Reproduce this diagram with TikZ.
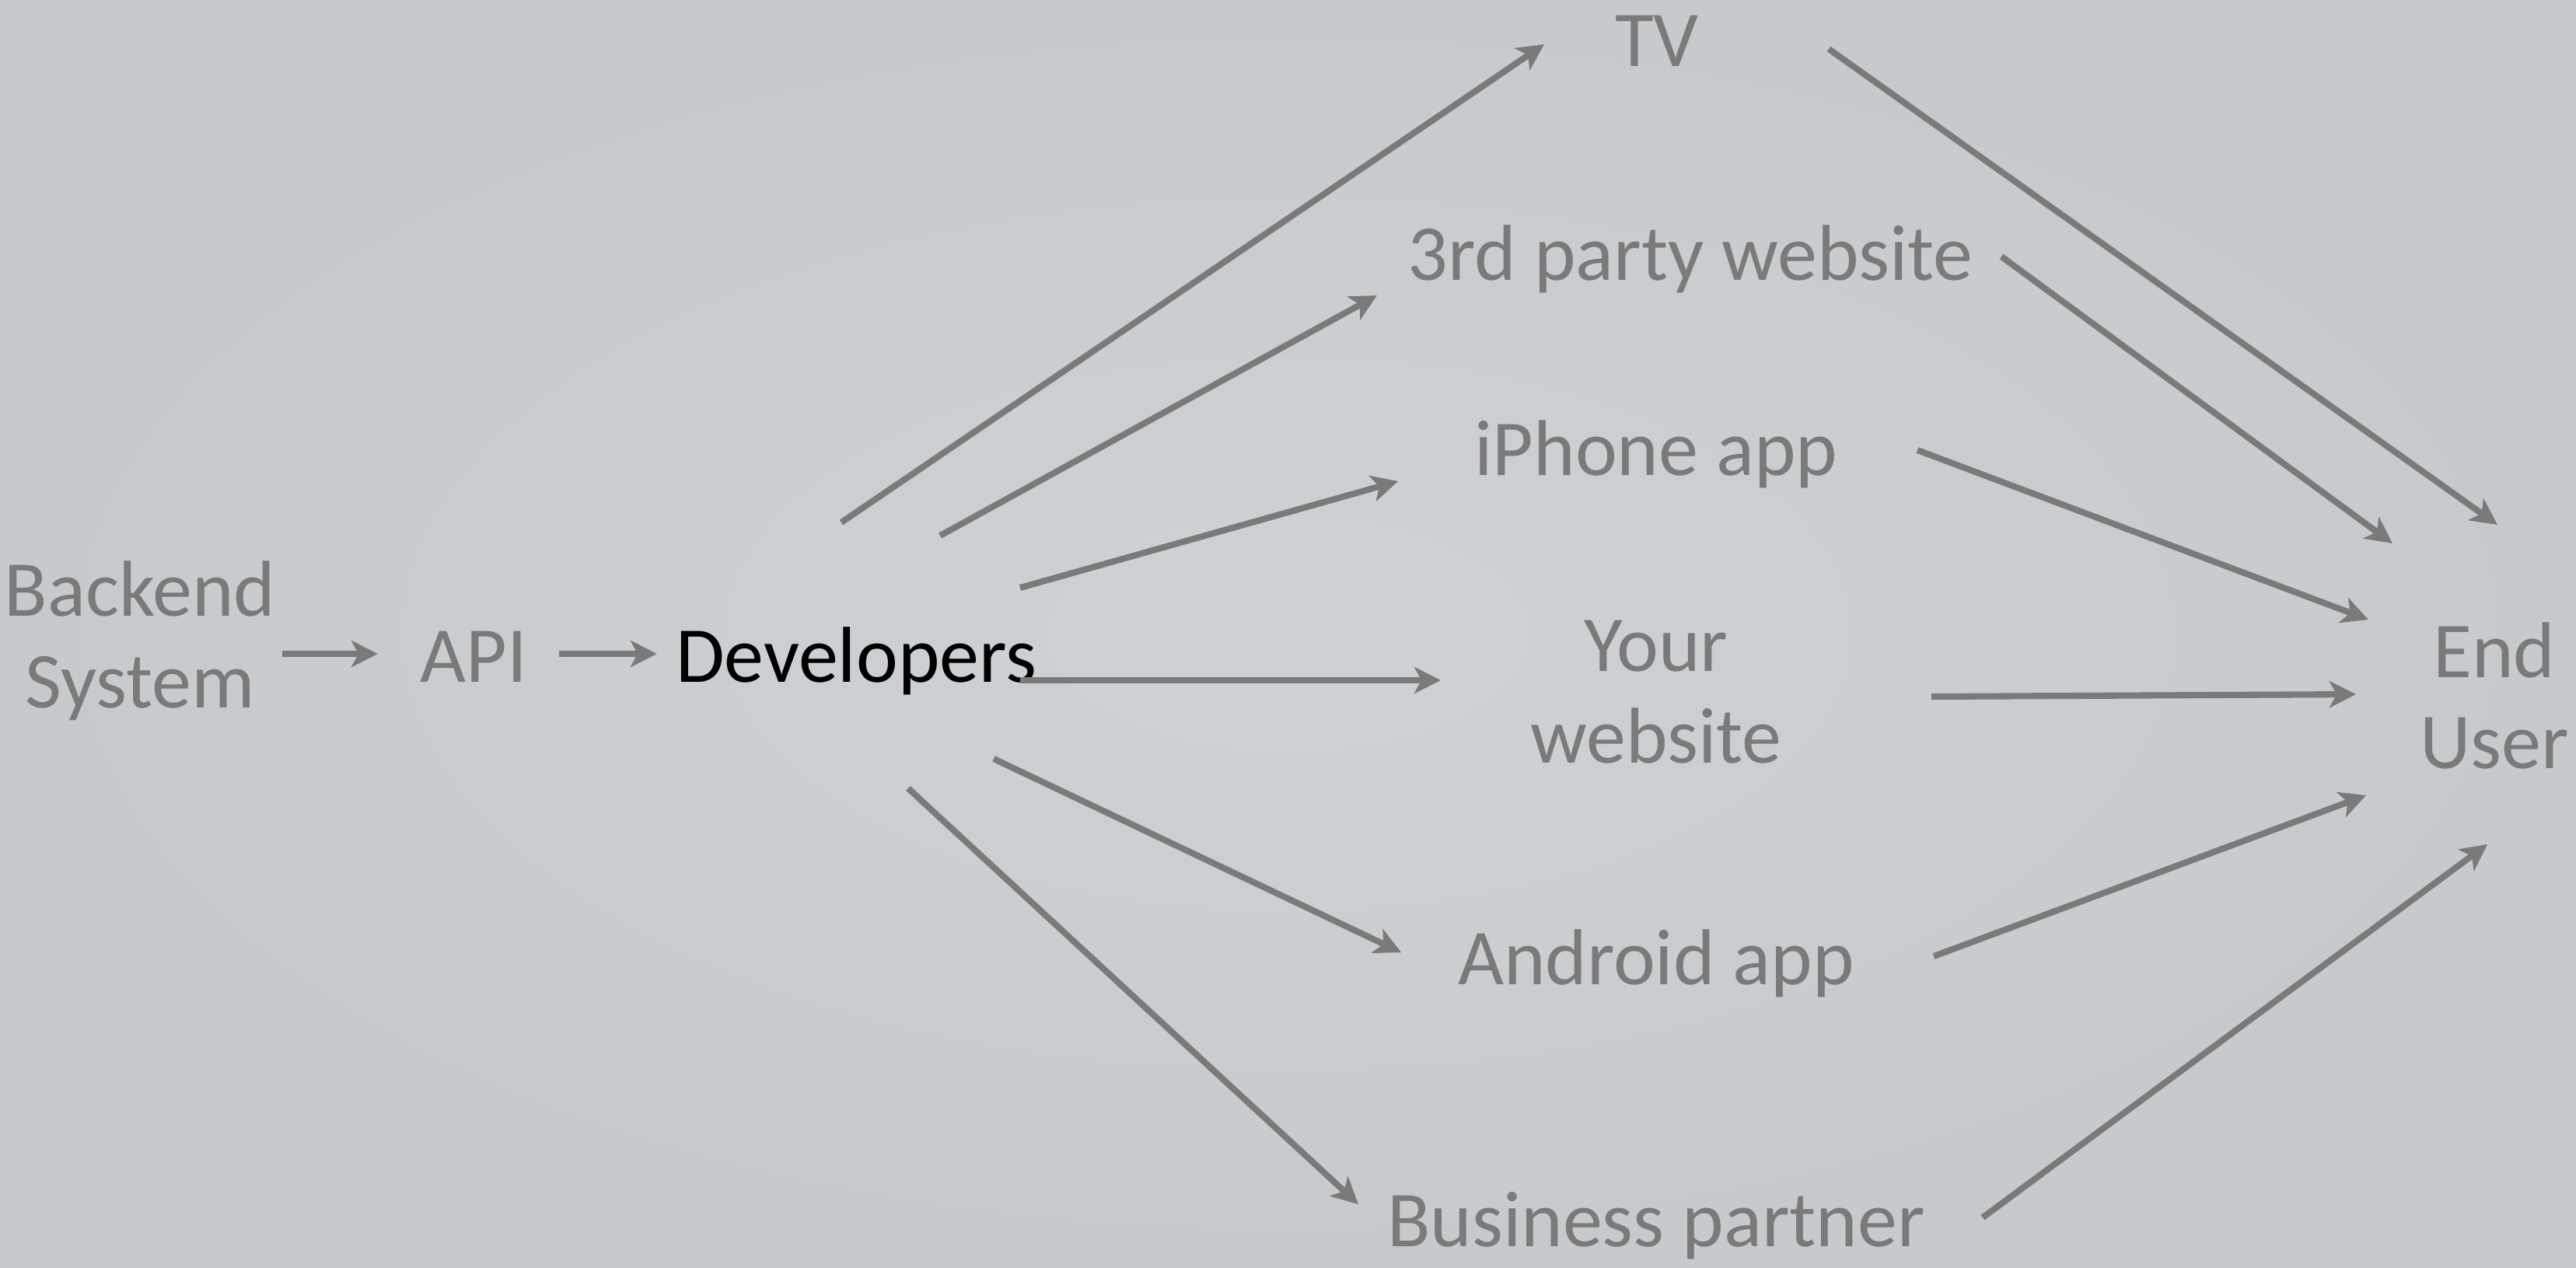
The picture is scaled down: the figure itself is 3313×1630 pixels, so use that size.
\documentclass[tikz,border=0pt]{standalone}
\usepackage{fontspec}
\setmainfont{Carlito}
\usetikzlibrary{arrows.meta}
\definecolor{bgin}{RGB}{207,210,212}
\definecolor{bgout}{RGB}{199,202,204}
\definecolor{ink}{RGB}{122,122,122}
\tikzset{
  lbl/.style={inner sep=0pt, text=ink, font=\fontsize{29}{33.5}\selectfont, align=center},
  arr/.style={draw=ink, line width=2.3pt, -{Stealth[length=9.7pt,width=9.7pt,inset=2.6pt]}}
}
\begin{document}
\begin{tikzpicture}[x=0.01cm,y=-0.01cm]
\shade[inner color=bgin, outer color=bgout] (0,0) rectangle (3313,1630);
\useasboundingbox (0,0) rectangle (3313,1630);
% nodes
\node[lbl, anchor=center] (bs) at (180,824) {Backend\\System};
\node[lbl, anchor=base] (api) at (609,877) {API};
\node[lbl, anchor=base, text=black] (dev) at (1101,877) {Developers};
\node[lbl, anchor=base] (tv) at (2131,85) {TV};
\node[lbl, anchor=base] (tp) at (2174,360) {3rd party website};
\node[lbl, anchor=base] (iph) at (2130,611) {iPhone app};
\node[lbl, anchor=center] (yw) at (2130,890) {Your\\website};
\node[lbl, anchor=base] (and) at (2130,1266) {Android app};
\node[lbl, anchor=base] (biz) at (2130,1603) {Business partner};
\node[lbl, anchor=center] (eu) at (3208,895) {End\\User};
% connectors
\draw[arr] ([shift={(183,17)}]bs.center) -- ([shift={(-123,-36)}]api.base);
\draw[arr] ([shift={(110,-36)}]api.base) -- ([shift={(-256,-36)}]dev.base);
\draw[arr] ([shift={(-19,-205)}]dev.base) -- ([shift={(-145,-28)}]tv.base);
\draw[arr] ([shift={(108,-188)}]dev.base) -- ([shift={(-403,20)}]tp.base);
\draw[arr] ([shift={(211,-121)}]dev.base) -- ([shift={(-332,8)}]iph.base);
\draw[arr] ([shift={(211,-2)}]dev.base) -- ([shift={(-277,-15)}]yw.center);
\draw[arr] ([shift={(177,99)}]dev.base) -- ([shift={(-328,-41)}]and.base);
\draw[arr] ([shift={(67,137)}]dev.base) -- ([shift={(-383,-54)}]biz.base);
\draw[arr] ([shift={(221,-22)}]tv.base) -- ([shift={(4,-220)}]eu.center);
\draw[arr] ([shift={(400,-30)}]tp.base) -- ([shift={(-131,-196)}]eu.center);
\draw[arr] ([shift={(336,-32)}]iph.base) -- ([shift={(-162,-98)}]eu.center);
\draw[arr] ([shift={(354,6)}]yw.center) -- ([shift={(-178,-2)}]eu.center);
\draw[arr] ([shift={(357,-36)}]and.base) -- ([shift={(-165,128)}]eu.center);
\draw[arr] ([shift={(420,-37)}]biz.base) -- ([shift={(-9,191)}]eu.center);
\end{tikzpicture}
\end{document}
